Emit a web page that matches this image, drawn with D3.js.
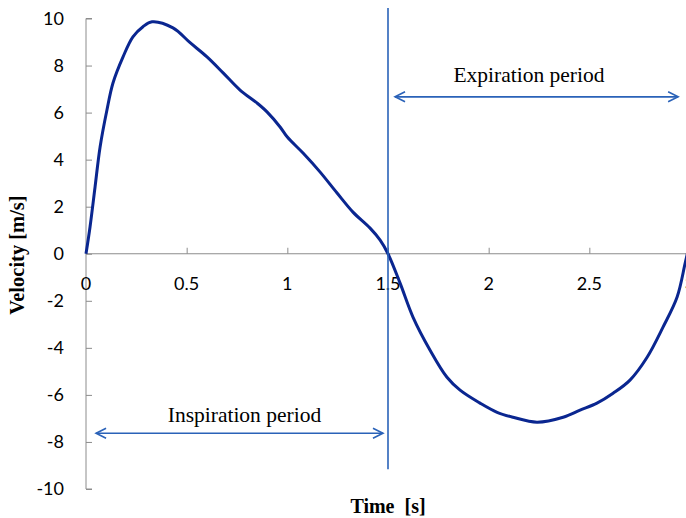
<!DOCTYPE html>
<html><head><meta charset="utf-8">
<script src="https://cdn.jsdelivr.net/npm/d3@7"></script>
<style>body{margin:0;background:#fff}svg{display:block}</style>
</head><body><svg id="c" width="686" height="518"></svg>
<script>
const time = [0,0.02,0.045,0.07,0.104,0.134,0.184,0.233,0.283,0.328,0.432,0.517,0.601,0.681,0.765,0.849,0.899,0.964,1.0,1.078,1.162,1.247,1.326,1.411,1.461,1.5,1.56,1.624,1.709,1.793,1.858,1.957,2.042,2.121,2.24,2.37,2.454,2.538,2.618,2.702,2.787,2.866,2.936,2.976,3.0];
const velocity = [0,1.14,2.84,4.54,6.11,7.26,8.37,9.22,9.65,9.86,9.6,8.97,8.37,7.69,6.96,6.41,6.03,5.39,4.96,4.28,3.48,2.58,1.77,1.09,0.58,0,-1.25,-2.69,-4.1,-5.25,-5.8,-6.35,-6.74,-6.95,-7.16,-6.95,-6.65,-6.35,-5.93,-5.37,-4.4,-3.12,-1.84,-0.4,0.5];
const xTicks = [0,0.5,1,1.5,2,2.5,3];
const yTicks = [-10,-8,-6,-4,-2,0,2,4,6,8,10];
const annotations = [
  {label:"Expiration period", from:1.535, to:2.941, v:6.67, tx:2.2, tv:7.3},
  {label:"Inspiration period", from:0.05, to:1.475, v:-7.63, tx:0.787, tv:-7.16}
];
const divider = {t:1.5, top:10.45, bottom:-9.16};

const svg = d3.select("#c");
const x = d3.scaleLinear().domain([0,3]).range([86,690]);
const y = d3.scaleLinear().domain([-10,10]).range([489,18.5]);
const axisCol = "#8c8c8c";
const tickFont = "Lato, 'Open Sans', sans-serif";

// y axis
const ya = svg.append("g").attr("transform",`translate(${x(0)},0)`)
  .call(d3.axisRight(y).tickValues(yTicks).tickSize(6).tickFormat(""));
ya.select(".domain").attr("stroke",axisCol).attr("d",`M6,${y(-10)}H0V${y(10)}H6`);
ya.selectAll(".tick line").attr("stroke",axisCol);
svg.append("g").selectAll("text").data(yTicks).join("text")
  .attr("x",64).attr("y",d=>y(d)).attr("dy","0.36em").attr("text-anchor","end")
  .attr("font-family",tickFont).attr("font-size",18).attr("fill","#000").text(d=>d);

// x axis at zero
const xa = svg.append("g").attr("transform",`translate(0,${y(0)})`)
  .call(d3.axisTop(x).tickValues(xTicks.filter(d=>d>0)).tickSize(6).tickFormat(""));
xa.select(".domain").attr("stroke",axisCol).attr("d",`M${x(0)},0H${x(3)}`);
xa.selectAll(".tick line").attr("stroke",axisCol);
svg.append("g").selectAll("text").data(xTicks).join("text")
  .attr("x",d=>x(d)).attr("y",y(0)+30).attr("dy","0.36em").attr("text-anchor","middle")
  .attr("font-family",tickFont).attr("font-size",18).attr("fill","#000").text(d=>d);

// curve
svg.append("path").datum(time.map((t,i)=>[t,velocity[i]]))
  .attr("fill","none").attr("stroke","#0a2690").attr("stroke-width",3)
  .attr("stroke-linejoin","round")
  .attr("d",d3.line().x(d=>x(d[0])).y(d=>y(d[1])).curve(d3.curveCatmullRom.alpha(0.5)));

// divider
const annCol = "#2a62b8";
svg.append("line").attr("x1",x(divider.t)).attr("x2",x(divider.t))
  .attr("y1",y(divider.top)).attr("y2",y(divider.bottom))
  .attr("stroke",annCol).attr("stroke-width",1.6);

// arrows
annotations.forEach(a=>{
  const g = svg.append("g").attr("stroke",annCol).attr("stroke-width",1.6).attr("fill","none");
  const x1=x(a.from), x2=x(a.to), yy=y(a.v);
  g.append("line").attr("x1",x1).attr("x2",x2).attr("y1",yy).attr("y2",yy);
  g.append("path").attr("d",`M${x1+10},${yy-5}L${x1},${yy}L${x1+10},${yy+5}`);
  g.append("path").attr("d",`M${x2-10},${yy-5}L${x2},${yy}L${x2-10},${yy+5}`);
  svg.append("text").attr("x",x(a.tx)).attr("y",y(a.tv)).attr("text-anchor","middle")
    .attr("font-family","'Liberation Serif', 'Times New Roman', serif").attr("font-size",21.5)
    .attr("fill","#000").text(a.label);
});

// axis titles
svg.append("text").attr("x",388).attr("y",513).attr("text-anchor","middle")
  .attr("font-family","'Liberation Serif', serif").attr("font-weight","bold").attr("font-size",20)
  .attr("xml:space","preserve").text("Time  [s]");
svg.append("text").attr("transform","translate(24,255) rotate(-90)").attr("text-anchor","middle")
  .attr("font-family","'Liberation Serif', serif").attr("font-weight","bold").attr("font-size",20.5)
  .text("Velocity [m/s]");
</script></body></html>
